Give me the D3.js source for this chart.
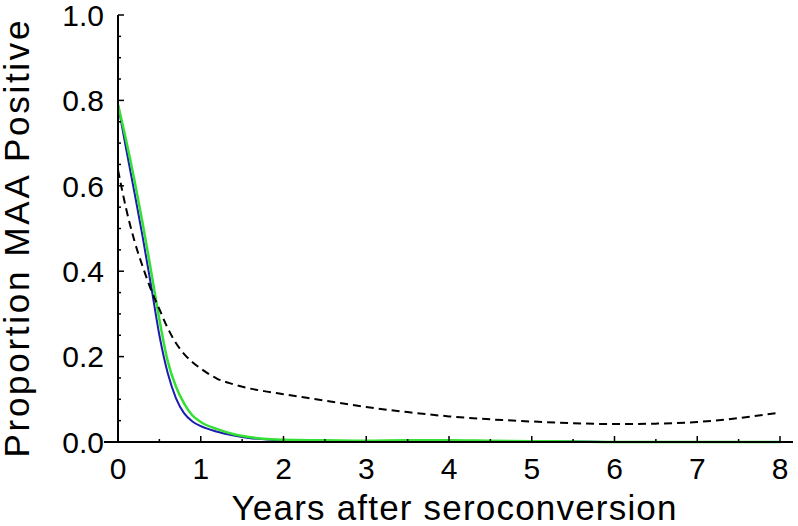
<!DOCTYPE html>
<html>
<head>
<meta charset="utf-8">
<script src="https://cdn.jsdelivr.net/npm/d3@7"></script>
<style>
    body { margin: 0; background: #fff; }
    text { font-family: "Liberation Sans", Arial, sans-serif; fill: #000; }
</style>
</head>
<body>
<div id="chart"></div>
<script>
// years after seroconversion and the three fitted curves
var years = [0, 0.1, 0.2, 0.3, 0.4, 0.5, 0.6, 0.7, 0.8, 0.9, 1.0, 1.2, 1.4, 1.6, 1.8, 2.0,
    2.5, 3.0, 3.5, 4.0, 4.5, 5.0, 5.5, 6.0, 6.5, 7.0, 7.5, 8.0];
var blueValues = [0.79, 0.685, 0.583, 0.478, 0.366, 0.25, 0.162, 0.103, 0.067, 0.048, 0.037, 0.024,
    0.015, 0.009, 0.006, 0.004, 0.002, 0.002, 0.002, 0.002, 0.002, 0.001, 0.001, 0, 0, 0, 0, 0];
var greenValues = [0.79, 0.705, 0.612, 0.51, 0.40, 0.287, 0.19, 0.13, 0.09, 0.062, 0.047, 0.03,
    0.018, 0.011, 0.007, 0.005, 0.004, 0.003, 0.004, 0.004, 0.003, 0.002, 0.001, 0, 0, 0, 0, 0];
var dashedValues = [0.637, 0.545, 0.47, 0.41, 0.356, 0.311, 0.267, 0.232, 0.206, 0.187, 0.172, 0.148,
    0.135, 0.125, 0.118, 0.112, 0.097, 0.082, 0.07, 0.06, 0.053, 0.048, 0.044, 0.042, 0.043, 0.047,
    0.056, 0.069];

var xTicks = [0, 1, 2, 3, 4, 5, 6, 7, 8];
var yTicks = [0, 0.2, 0.4, 0.6, 0.8, 1.0];

var width = 798, height = 526;
var plotLeft = 118, plotRight = 780, plotTop = 15, plotBottom = 442;

var svg = d3.select('#chart').append('svg')
    .attr('width', width)
    .attr('height', height);

var x = d3.scaleLinear().domain([0, 8]).range([plotLeft, plotRight]);
var y = d3.scaleLinear().domain([0, 1]).range([plotBottom, plotTop]);

// curves
var line = function(values) {
    return d3.line()
        .x(function(d, i) { return x(years[i]); })
        .y(function(d) { return y(d); })
        .curve(d3.curveMonotoneX)(values);
};

svg.append('path')
    .attr('d', line(blueValues))
    .attr('fill', 'none')
    .attr('stroke', '#1c1cb0')
    .attr('stroke-width', 2);

svg.append('path')
    .attr('d', line(greenValues))
    .attr('fill', 'none')
    .attr('stroke', '#33e033')
    .attr('stroke-width', 2.5);

svg.append('path')
    .attr('d', line(dashedValues))
    .attr('fill', 'none')
    .attr('stroke', '#000')
    .attr('stroke-width', 2)
    .attr('stroke-dasharray', '8,5');

// axes lines
svg.append('line')
    .attr('x1', plotLeft - 14).attr('x2', 793)
    .attr('y1', plotBottom).attr('y2', plotBottom)
    .attr('stroke', '#000').attr('stroke-width', 2);
svg.append('line')
    .attr('x1', plotLeft).attr('x2', plotLeft)
    .attr('y1', plotBottom).attr('y2', plotTop)
    .attr('stroke', '#000').attr('stroke-width', 2);

// x ticks, pointing up into the plot
var xMinor = d3.range(0.5, 8, 1);
svg.selectAll('line.xmaj').data(xTicks).enter().append('line')
    .attr('class', 'xmaj')
    .attr('x1', function(d) { return x(d); }).attr('x2', function(d) { return x(d); })
    .attr('y1', plotBottom).attr('y2', plotBottom - 6)
    .attr('stroke', '#000').attr('stroke-width', 1.5);
svg.selectAll('line.xmin').data(xMinor).enter().append('line')
    .attr('class', 'xmin')
    .attr('x1', function(d) { return x(d); }).attr('x2', function(d) { return x(d); })
    .attr('y1', plotBottom).attr('y2', plotBottom - 3)
    .attr('stroke', '#000').attr('stroke-width', 1.5);

// y ticks, pointing right
var yMinor = d3.range(0.05, 1, 0.05).filter(function(d) {
    return Math.abs(d * 5 - Math.round(d * 5)) > 1e-6;
});
svg.selectAll('line.ymaj').data(yTicks).enter().append('line')
    .attr('class', 'ymaj')
    .attr('x1', plotLeft).attr('x2', plotLeft + 6)
    .attr('y1', function(d) { return y(d); }).attr('y2', function(d) { return y(d); })
    .attr('stroke', '#000').attr('stroke-width', 1.5);
svg.selectAll('line.ymin').data(yMinor).enter().append('line')
    .attr('class', 'ymin')
    .attr('x1', plotLeft).attr('x2', plotLeft + 3)
    .attr('y1', function(d) { return y(d); }).attr('y2', function(d) { return y(d); })
    .attr('stroke', '#000').attr('stroke-width', 1.5);

// tick labels
svg.selectAll('text.xlab').data(xTicks).enter().append('text')
    .attr('class', 'xlab')
    .attr('x', function(d) { return x(d); })
    .attr('y', 479)
    .attr('text-anchor', 'middle')
    .attr('font-size', 30)
    .text(function(d) { return d; });

svg.selectAll('text.ylab').data(yTicks).enter().append('text')
    .attr('class', 'ylab')
    .attr('x', 104)
    .attr('y', function(d) { return y(d); })
    .attr('dy', '0.36em')
    .attr('text-anchor', 'end')
    .attr('font-size', 30)
    .text(function(d) { return d3.format('.1f')(d); });

// axis titles
svg.append('text')
    .attr('x', 454).attr('y', 520)
    .attr('text-anchor', 'middle')
    .attr('font-size', 35)
    .attr('textLength', 445)
    .attr('lengthAdjust', 'spacing')
    .text('Years after seroconversion');

svg.append('text')
    .attr('transform', 'translate(29,239) rotate(-90)')
    .attr('text-anchor', 'middle')
    .attr('font-size', 35)
    .attr('textLength', 437)
    .attr('lengthAdjust', 'spacing')
    .text('Proportion MAA Positive');
</script>
</body>
</html>
